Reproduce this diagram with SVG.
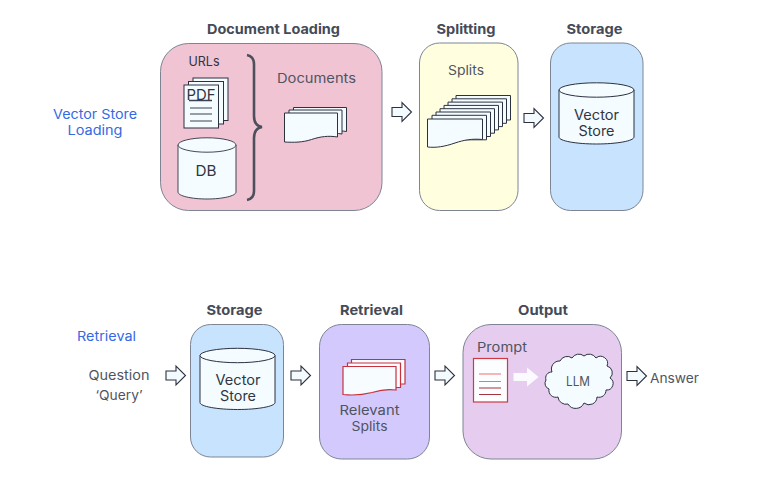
<svg xmlns="http://www.w3.org/2000/svg" width="766" height="491" viewBox="0 0 766 491">
<style>
text{font-family:"Inter","Noto Sans","Liberation Sans",sans-serif;text-anchor:middle}
.t{font-size:13.5px;font-weight:700;fill:#454a57}
.l{font-size:13px;fill:#4f5462}
.b{font-size:13px;fill:#3469e4}
.d{font-size:14px;fill:#2f3542}
.box{stroke:#7d8494;stroke-width:1}
.s{fill:#f4fcff;stroke:#2c3140;stroke-width:1}
.r{fill:#f6fcff;stroke:#c9303c;stroke-width:1.2}
.ar{fill:#f3fbff;stroke:#2c3140;stroke-width:1.1}
</style>
<defs>
<path id="arrow" class="ar" d="M0-4.500H10V-9.500L19.500 0L10 9.500V4.500H0Z"/>
<path id="sheet" class="s" d="M0 0H53V24C44 22.500 36 23.500 27 26.500C18 29.500 9 29.500 0 29Z"/>
<path id="slice" class="s" d="M0 0H54.500V24.500H0Z"/>
<g id="cyl"><path class="s" d="M-37.500 0V47C-37.500 51 -20 54 0 54C20 54 37.500 51 37.500 47V0Z"/><ellipse class="s" cx="0" cy="0" rx="37.500" ry="7.200"/></g>
</defs>
<g id="vector-store-loading-label"><text class="b" x="95" y="119" textLength="84" lengthAdjust="spacingAndGlyphs">Vector Store</text><text class="b" x="95" y="135" textLength="55" lengthAdjust="spacingAndGlyphs">Loading</text></g>
<g id="document-loading">
<rect class="box" x="160.500" y="43.500" width="221.500" height="167" rx="28" fill="#f1c4d4"/>
<text class="t" x="273.500" y="34" textLength="133" lengthAdjust="spacingAndGlyphs">Document Loading</text>
<text class="l" x="204" y="66" textLength="31" lengthAdjust="spacingAndGlyphs" style="fill:#2f3542">URLs</text>
<rect class="s" x="193" y="78" width="35" height="42.500"/><rect class="s" x="188.500" y="81.500" width="35" height="42.500"/><rect class="s" x="184" y="85" width="34.500" height="43"/>
<text class="d" x="201" y="100" textLength="29" lengthAdjust="spacingAndGlyphs" style="font-size:15px">PDF</text>
<path d="M190 108H212M190 114H212M190 121H212" stroke="#3a4050" stroke-width="1" fill="none"/>
<path d="M189 100.500H212" stroke="#3a4050" stroke-width="1.500" fill="none"/>
<g transform="translate(207,145) scale(.773,1)"><use href="#cyl"/></g>
<text class="d" x="206" y="176" textLength="21" lengthAdjust="spacingAndGlyphs" style="font-size:15px">DB</text>
<path d="M247 55C252 56 254 59 254 64V116C254 122 256 126 262 127C256 128 254 132 254 138V191C254 196 252 199 247 200" fill="none" stroke="#4d4f5a" stroke-width="2.600"/>
<text class="l" x="316.500" y="83" textLength="79" lengthAdjust="spacingAndGlyphs">Documents</text>
<use href="#sheet" x="293.500" y="107.500"/><use href="#sheet" x="289" y="110"/><use href="#sheet" x="284.500" y="113"/>
</g>
<g id="splitting">
<rect class="box" x="419.500" y="43" width="98.500" height="167.500" rx="20" fill="#ffffe0"/>
<text class="t" x="466" y="34" textLength="59" lengthAdjust="spacingAndGlyphs">Splitting</text>
<text class="l" x="466" y="75" textLength="36" lengthAdjust="spacingAndGlyphs">Splits</text>
<use href="#slice" x="456" y="95.500"/><use href="#slice" x="452" y="98.800"/><use href="#slice" x="448" y="102.100"/><use href="#slice" x="444" y="105.400"/><use href="#slice" x="440" y="108.700"/><use href="#slice" x="436" y="112"/><use href="#slice" x="432" y="115.300"/>
<path class="s" d="M427.500 119H482.500V139.500C472 138.500 464 140 455 143C445 146.500 436 148 427.500 147Z"/>
</g>
<g id="storage-top">
<rect class="box" x="550.500" y="43" width="92.500" height="167.500" rx="20" fill="#c7e3fd"/>
<text class="t" x="594.500" y="34" textLength="56" lengthAdjust="spacingAndGlyphs">Storage</text>
<use href="#cyl" x="596.500" y="90"/>
<text class="d" x="596.500" y="120" textLength="45" lengthAdjust="spacingAndGlyphs">Vector</text><text class="d" x="596.500" y="136" textLength="36" lengthAdjust="spacingAndGlyphs">Store</text>
</g>
<g id="retrieval-label"><text class="b" x="106.500" y="341" textLength="59" lengthAdjust="spacingAndGlyphs">Retrieval</text></g>
<g id="question"><text class="l" x="119" y="380" textLength="61" lengthAdjust="spacingAndGlyphs">Question</text><text class="l" x="119" y="400" textLength="47" lengthAdjust="spacingAndGlyphs">‘Query’</text></g>
<g id="storage-bottom">
<rect class="box" x="190.500" y="324.500" width="93" height="132.500" rx="20" fill="#c7e3fd"/>
<text class="t" x="234.500" y="315" textLength="56" lengthAdjust="spacingAndGlyphs">Storage</text>
<use href="#cyl" x="237.500" y="355.500"/>
<text class="d" x="238" y="385" textLength="45" lengthAdjust="spacingAndGlyphs">Vector</text><text class="d" x="238" y="401" textLength="36" lengthAdjust="spacingAndGlyphs">Store</text>
</g>
<g id="retrieval">
<rect class="box" x="319.500" y="324.500" width="110" height="134.500" rx="22" fill="#d3c9fd"/>
<text class="t" x="371.500" y="315" textLength="63" lengthAdjust="spacingAndGlyphs">Retrieval</text>
<path class="r" d="M351.500 359.500H405V384H351.500Z"/><path class="r" d="M347.500 363H400.500V387.500H347.500Z"/>
<path class="r" d="M343 366.500H396V390C386 388.500 380 390 372 392.500C362 395 352 395.500 343 394.500Z"/>
<text class="l" x="369.500" y="415" textLength="60" lengthAdjust="spacingAndGlyphs">Relevant</text><text class="l" x="369.500" y="431" textLength="36" lengthAdjust="spacingAndGlyphs">Splits</text>
</g>
<g id="output">
<rect class="box" x="463" y="324.500" width="158.500" height="134.500" rx="28" fill="#e6cdef"/>
<text class="t" x="543" y="315" textLength="50" lengthAdjust="spacingAndGlyphs">Output</text>
<text class="l" x="502" y="352" textLength="50" lengthAdjust="spacingAndGlyphs">Prompt</text>
<rect x="473.500" y="358.500" width="34" height="43.500" fill="#fbfdff" stroke="#cf3a42" stroke-width="1.200"/>
<path d="M479 374H501M479 381.500H501" stroke="#f2716f" stroke-width="1.200"/><path d="M479 388H501M479 394.500H501" stroke="#a8323c" stroke-width="1.200"/>
<path d="M513.500 373H527V367.500L538.500 377L527 386.500V381H513.500Z" fill="#fafaff"/>
<path class="s" d="M552 372A8 8 0 0 1 560 361A8 8 0 0 1 572 358A8 8 0 0 1 584 356A8 8 0 0 1 596 358A7 7 0 0 1 607 366A7 7 0 0 1 610 378A6.500 6.500 0 0 1 606 390A7 7 0 0 1 597 397A8 8 0 0 1 584 403A9 9 0 0 1 568 404A8 8 0 0 1 558 397A7 7 0 0 1 549 389A6 6 0 0 1 546 380A6 6 0 0 1 552 372Z"/>
<text class="l" x="578" y="386" textLength="24" lengthAdjust="spacingAndGlyphs">LLM</text>
</g>
<g id="answer"><text class="l" x="674.500" y="383" textLength="49" lengthAdjust="spacingAndGlyphs">Answer</text></g>
<g id="connectors">
<use href="#arrow" x="392" y="112"/><use href="#arrow" x="524" y="118"/><use href="#arrow" x="166" y="375.500"/><use href="#arrow" x="291" y="375.500"/><use href="#arrow" x="435" y="375.500"/><use href="#arrow" x="627" y="376"/>
</g>
</svg>
